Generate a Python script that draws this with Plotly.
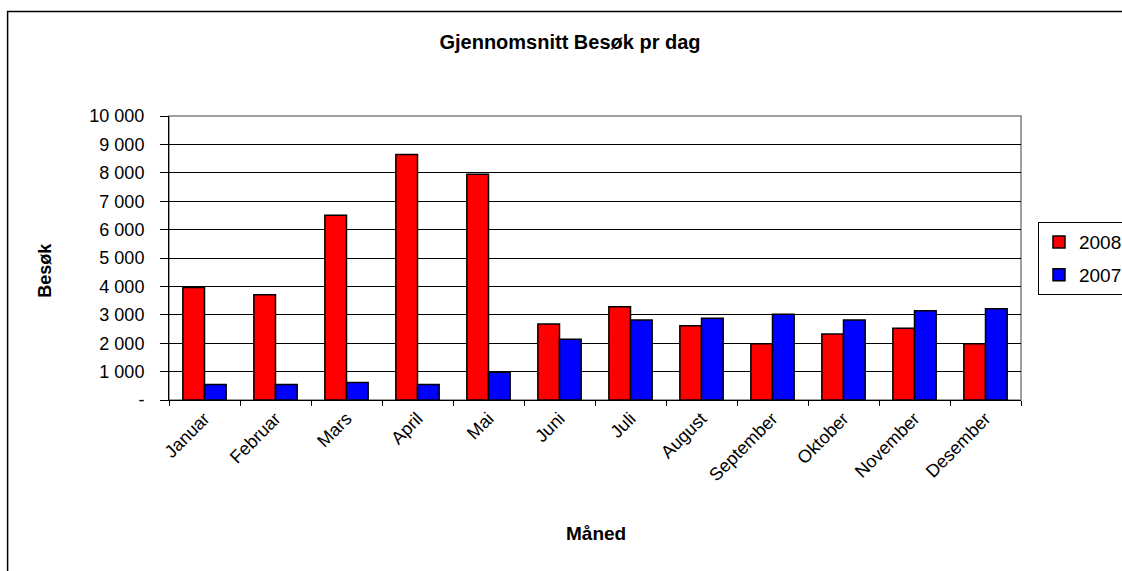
import plotly.graph_objects as go

months = ["Januar", "Februar", "Mars", "April", "Mai", "Juni", "Juli",
          "August", "September", "Oktober", "November", "Desember"]
visits_2008 = [3965, 3705, 6505, 8640, 7950, 2675, 3280, 2615, 1980, 2320, 2530, 1980]
visits_2007 = [550, 550, 620, 550, 975, 2135, 2815, 2875, 3015, 2815, 3140, 3210]
ytick_vals = [0, 1000, 2000, 3000, 4000, 5000, 6000, 7000, 8000, 9000, 10000]
ytick_text = ["-", "1 000", "2 000", "3 000", "4 000", "5 000", "6 000",
              "7 000", "8 000", "9 000", "10 000"]

FONT = "Liberation Sans, Arial, sans-serif"
W, H = 1122, 571
L, R, T, B = 168.5, 1021, 115.7, 400

def px(x):
    return (x - L) / (R - L)

def py(y):
    return (B - y) / (B - T)

fig = go.Figure()
fig.add_trace(go.Bar(x=months, y=visits_2008, name="2008", legendgroup="a",
                     marker=dict(color="#FF0000", line=dict(color="#000000", width=1.5))))
fig.add_trace(go.Bar(x=months, y=visits_2007, name="2007", legendgroup="b",
                     marker=dict(color="#0000FF", line=dict(color="#000000", width=1.5))))

fig.update_layout(
    width=W, height=H,
    margin=dict(l=L, r=W - R, t=T, b=H - B, pad=0, autoexpand=False),
    paper_bgcolor="white", plot_bgcolor="white",
    barmode="group", bargap=0.39, bargroupgap=0,
    font=dict(family=FONT, size=18, color="black"),
    title=dict(text="<b>Gjennomsnitt Besøk pr dag</b>", x=570 / W, xanchor="center",
               y=1 - 42 / H, yanchor="middle", font=dict(family=FONT, size=20, color="black")),
    showlegend=True,
    legend=dict(x=px(1038), y=py(222), xanchor="left", yanchor="top",
                bordercolor="#000000", borderwidth=1, bgcolor="white",
                font=dict(family=FONT, size=19), itemwidth=30,
                traceorder="grouped", tracegroupgap=5),
)

fig.update_xaxes(
    showline=True, linecolor="black", linewidth=1,
    ticks="outside", tickson="boundaries", ticklen=5, tickcolor="black",
    tickangle=-45, tickfont=dict(family=FONT, size=18),
    showgrid=False, automargin=False,
)
fig.update_yaxes(
    range=[0, 10000], tickvals=ytick_vals, ticktext=ytick_text,
    showline=True, linecolor="black", linewidth=1,
    ticks="outside", ticklen=8, tickcolor="black",
    tickfont=dict(family=FONT, size=18), ticklabelstandoff=12,
    showgrid=True, gridcolor="#000000", gridwidth=1, zeroline=False, automargin=False,
)

# plot area border (grey) and outer chart border
fig.add_shape(type="rect", xref="paper", yref="paper", x0=0, x1=1, y0=0, y1=1,
              line=dict(color="#808080", width=1.5), layer="below")
fig.add_shape(type="rect", xref="paper", yref="paper", x0=px(7), x1=px(1140),
              y0=py(590), y1=py(11), line=dict(color="#000000", width=1.5), layer="below")

fig.add_annotation(text="<b>Besøk</b>", xref="paper", yref="paper", x=px(45), y=py(270),
                   textangle=-90, showarrow=False, xanchor="center", yanchor="middle",
                   font=dict(family=FONT, size=18))
fig.add_annotation(text="<b>Måned</b>", xref="paper", yref="paper", x=px(596), y=py(534),
                   showarrow=False, xanchor="center", yanchor="middle",
                   font=dict(family=FONT, size=19))

fig.write_html("out.html", config={"displayModeBar": False},
               post_script="document.body.style.margin='0';document.body.style.overflow='hidden';")
